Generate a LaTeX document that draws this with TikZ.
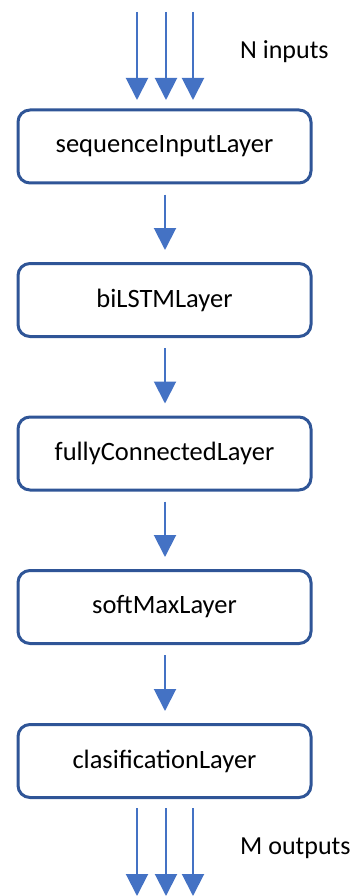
\documentclass[tikz,border=0pt]{standalone}
\usepackage{fontspec}
\setmainfont{Carlito}
\usetikzlibrary{arrows.meta}
\definecolor{boxline}{HTML}{2F5597}
\definecolor{arrowblue}{HTML}{4472C4}
\tikzset{
  layerbox/.style={draw=boxline, line width=3pt, rounded corners=12pt,
    minimum width=293pt, minimum height=73pt, inner sep=0pt,
    font=\fontsize{26.5}{30}\selectfont, fill=white},
  flow/.style={draw=arrowblue, line width=2pt,
    -{Triangle[width=22pt,length=22pt]}},
  caption/.style={anchor=west, font=\fontsize{26}{30}\selectfont, inner sep=0pt}
}
\begin{document}
\begin{tikzpicture}[x=1pt,y=-1pt]
\useasboundingbox (0,0) rectangle (355,896);
% layer stack
\node[layerbox] (l1) at (164.5,146.5) {sequenceInputLayer};
\node[layerbox] (l2) at (164.5,300) {biLSTMLayer};
\node[layerbox] (l3) at (164.5,453.5) {fullyConnectedLayer};
\node[layerbox] (l4) at (164.5,607) {softMaxLayer};
\node[layerbox] (l5) at (164.5,761) {clasificationLayer};
% input and output ends
\coordinate (i1) at (137,12);
\coordinate (i2) at (166,12);
\coordinate (i3) at (193,12);
\coordinate (o1) at (137,896);
\coordinate (o2) at (166,896);
\coordinate (o3) at (193,896);
\foreach \c in {i1,i2,i3}
  \draw[flow] (\c) -- (\c |- {(0,100)});
\foreach \c in {o1,o2,o3}
  \draw[flow] (\c |- {(0,808)}) -- (\c);
% connectors between layers
\foreach \a/\b in {l1/l2,l2/l3,l3/l4,l4/l5}
  \draw[flow] ([xshift=0.5pt,yshift=-10pt]\a.south) -- ([xshift=0.5pt,yshift=12pt]\b.north);
\node[caption] (nin) at (240,52) {N inputs};
\node[caption] (mout) at (240,848) {M outputs};
\end{tikzpicture}
\end{document}
